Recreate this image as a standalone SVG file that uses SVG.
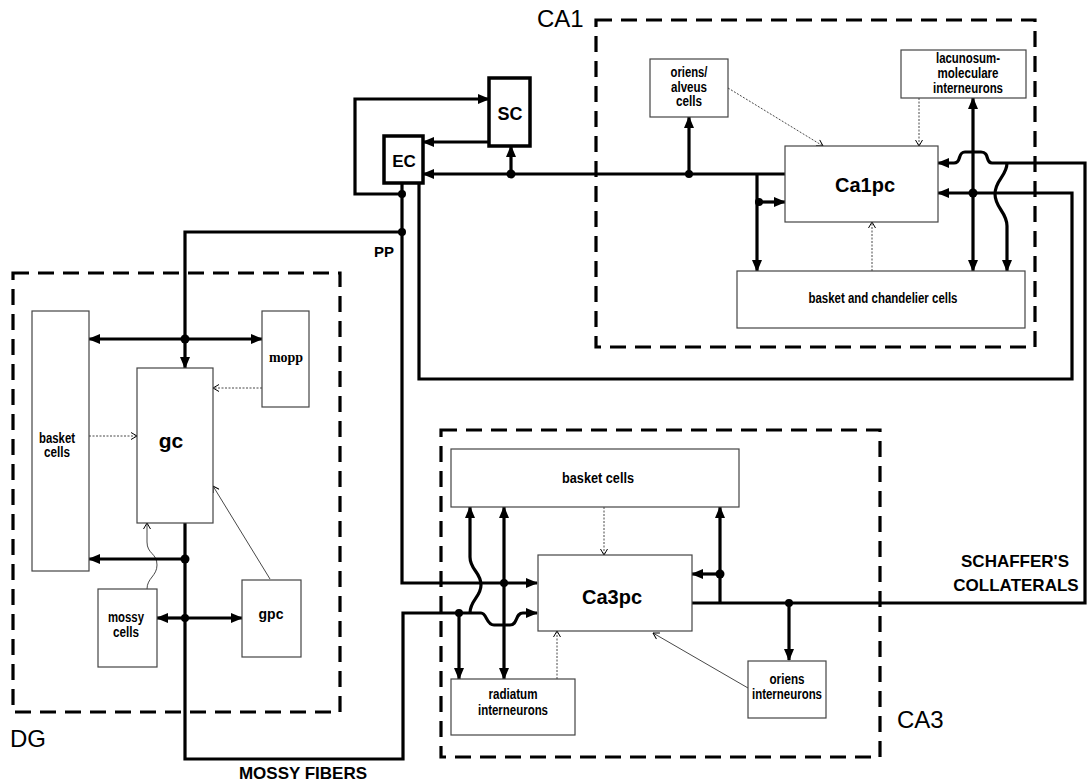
<svg xmlns="http://www.w3.org/2000/svg" width="1087" height="784" viewBox="0 0 1087 784">
<defs>
<marker id="ah" markerUnits="userSpaceOnUse" markerWidth="12" markerHeight="10" refX="11" refY="5" orient="auto"><path d="M0,0 L12,5 L0,10 z" fill="#000"/></marker>
<marker id="th" markerUnits="userSpaceOnUse" markerWidth="7" markerHeight="8" refX="6.5" refY="4" orient="auto"><path d="M0.5,0.5 L6.5,4 L0.5,7.5" fill="none" stroke="#000" stroke-width="1"/></marker>
<style>
.region{fill:none;stroke:#000;stroke-width:3.2;stroke-dasharray:16,9}
.box{fill:#fff;stroke:#444;stroke-width:1.2}
.tbox{fill:#fff;stroke:#000;stroke-width:3.5}
.c{fill:none;stroke:#000;stroke-width:3.2}
.ca{fill:none;stroke:#000;stroke-width:3.2;marker-end:url(#ah)}
.tn{fill:none;stroke:#333;stroke-width:0.9;stroke-dasharray:2,1.5;marker-end:url(#th)}
.ts{fill:none;stroke:#333;stroke-width:0.9;marker-end:url(#th)}
.dot{fill:#000}
text{font-family:"Liberation Sans",Arial,sans-serif;fill:#000;text-anchor:middle}
.n{font-family:"Liberation Sans Narrow","Liberation Sans",Arial,sans-serif;font-weight:bold;font-size:14px}
.big{font-weight:bold;font-size:20px}
.reg{font-size:24px;text-anchor:start}
.lab{font-weight:bold;font-size:17px}
</style>
</defs>
<rect width="1087" height="784" fill="#fff"/>

<g id="regions">
<rect id="CA1" class="region" x="596" y="20" width="439" height="327"/>
<rect id="DG" class="region" x="13" y="273" width="327" height="439"/>
<rect id="CA3" class="region" x="441" y="430" width="439" height="327"/>
<text class="reg" x="537" y="27">CA1</text>
<text class="reg" x="10" y="747">DG</text>
<text class="reg" x="897" y="728">CA3</text>
</g>

<g id="connectors">
<!-- thin connectors -->
<path class="tn" d="M89,436 H137"/>
<path class="tn" d="M262,388 H213"/>
<path class="ts" d="M270,579 L213,486"/>
<path class="ts" d="M147,589 C147,578 157,576 157,565 C157,553 147,554 147,542 V523"/>
<path class="tn" d="M728,88 L823,146"/>
<path class="tn" d="M919,98 V146"/>
<path class="tn" d="M872,271 V222"/>
<path class="tn" d="M604,507 V555"/>
<path class="tn" d="M557,679 V631"/>
<path class="ts" d="M748,688 L653,633"/>

<!-- thick connectors -->
<path class="ca" d="M402,194 H355 V99 H489"/>
<path class="ca" d="M489,142 H423"/>
<path class="ca" d="M785,174 H423"/>
<path class="ca" d="M511,174 V146"/>
<path class="ca" d="M689,174 V117"/>
<path class="ca" d="M757,174 V271"/>
<path class="ca" d="M757,202 H785"/>
<path class="ca" d="M402,183 V583 H537"/>
<path class="ca" d="M402,232 H185 V368"/>
<path class="ca" d="M185,339 H89"/>
<path class="ca" d="M185,339 H262"/>
<path class="ca" d="M419,183 V379 H1072 V193 H938"/>
<path class="ca" d="M973,193 V98"/>
<path class="ca" d="M973,193 V271"/>
<path class="ca" d="M692,603 H1085 V163 H992 C985,163 990,152 981,152 H965 C957,152 962,163 954,163 H938"/>
<path class="ca" d="M1007,163 C1007,176 995,180 995,194 C995,208 1007,212 1007,226 V271"/>
<path class="ca" d="M720,603 V507"/>
<path class="ca" d="M720,574 H692"/>
<path class="ca" d="M789,603 V660"/>
<path class="ca" d="M185,523 V759 H403 V613 H481 C487,613 486,625 494,625 H510 C518,625 515,613 523,613 H537"/>
<path class="ca" d="M459,613 V679"/>
<path class="ca" d="M504,583 V507"/>
<path class="ca" d="M504,583 V679"/>
<path class="ca" d="M470,613 C470,600 481,597 481,585 C481,572 470,570 470,557 V507"/>
<path class="ca" d="M185,559 H89"/>
<path class="ca" d="M185,618 H157"/>
<path class="ca" d="M185,618 H242"/>

<circle class="dot" cx="402" cy="194" r="4"/>
<circle class="dot" cx="402" cy="232" r="4"/>
<circle class="dot" cx="511" cy="174" r="4.5"/>
<circle class="dot" cx="689" cy="174" r="4"/>
<circle class="dot" cx="759" cy="202" r="4"/>
<circle class="dot" cx="973" cy="193" r="4.5"/>
<circle class="dot" cx="185" cy="339" r="4.5"/>
<circle class="dot" cx="185" cy="559" r="4.5"/>
<circle class="dot" cx="185" cy="618" r="4"/>
<circle class="dot" cx="720" cy="574" r="4.5"/>
<circle class="dot" cx="789" cy="603" r="4"/>
<circle class="dot" cx="459" cy="613" r="4"/>
<circle class="dot" cx="504" cy="583" r="4"/>

<text class="lab" x="384" y="257" style="font-size:15px">PP</text>
<text class="lab" x="303" y="779">MOSSY FIBERS</text>
<text class="lab" x="1015" y="567">SCHAFFER'S</text>
<text class="lab" x="1016" y="591">COLLATERALS</text>
</g>

<g id="SC"><rect class="tbox" x="489" y="78" width="41" height="68"/><text class="big" x="510" y="120" style="font-size:18px">SC</text></g>
<g id="EC"><rect class="tbox" x="384" y="136" width="39" height="47"/><text class="big" x="404" y="167" style="font-size:17px">EC</text></g>

<g id="oriens-alveus"><rect class="box" x="650" y="59" width="78" height="58"/><text class="n" x="689" y="77" textLength="37" lengthAdjust="spacingAndGlyphs">oriens/</text><text class="n" x="689" y="92" textLength="36" lengthAdjust="spacingAndGlyphs">alveus</text><text class="n" x="689" y="106" textLength="26" lengthAdjust="spacingAndGlyphs">cells</text></g>
<g id="lacunosum"><rect class="box" x="901" y="50" width="125" height="48"/><text class="n" x="968" y="63" textLength="64" lengthAdjust="spacingAndGlyphs">lacunosum-</text><text class="n" x="968" y="78" textLength="61" lengthAdjust="spacingAndGlyphs">moleculare</text><text class="n" x="968" y="93" textLength="70" lengthAdjust="spacingAndGlyphs">interneurons</text></g>
<g id="Ca1pc"><rect class="box" x="785" y="146" width="153" height="76"/><text class="big" x="865" y="192">Ca1pc</text></g>
<g id="basket-chandelier"><rect class="box" x="737" y="271" width="288" height="57"/><text class="n" x="883" y="303" textLength="149" lengthAdjust="spacingAndGlyphs">basket and chandelier cells</text></g>

<g id="DG-basket"><rect class="box" x="32" y="311" width="57" height="260"/><text class="n" x="57" y="443" textLength="36" lengthAdjust="spacingAndGlyphs">basket</text><text class="n" x="57" y="457" textLength="26" lengthAdjust="spacingAndGlyphs">cells</text></g>
<g id="gc"><rect class="box" x="137" y="368" width="76" height="155"/><text class="big" x="171" y="448" style="font-size:21px">gc</text></g>
<g id="mopp"><rect class="box" x="262" y="311" width="47" height="96"/><text x="286" y="362" style="font-family:'Liberation Serif','Times New Roman',serif;font-weight:bold;font-size:14px">mopp</text></g>
<g id="mossy-cells"><rect class="box" x="98" y="589" width="59" height="78"/><text class="n" x="126" y="622" textLength="36" lengthAdjust="spacingAndGlyphs">mossy</text><text class="n" x="126" y="637" textLength="26" lengthAdjust="spacingAndGlyphs">cells</text></g>
<g id="gpc"><rect class="box" x="242" y="580" width="59" height="77"/><text x="271" y="619" style="font-weight:bold;font-size:14px">gpc</text></g>

<g id="CA3-basket"><rect class="box" x="451" y="449" width="288" height="58"/><text class="n" x="598" y="483" style="font-size:15px" textLength="72" lengthAdjust="spacingAndGlyphs">basket cells</text></g>
<g id="Ca3pc"><rect class="box" x="538" y="555" width="154" height="76"/><text class="big" x="612" y="604">Ca3pc</text></g>
<g id="radiatum"><rect class="box" x="451" y="679" width="124" height="56"/><text class="n" x="513" y="699" textLength="49" lengthAdjust="spacingAndGlyphs">radiatum</text><text class="n" x="513" y="715" textLength="70" lengthAdjust="spacingAndGlyphs">interneurons</text></g>
<g id="oriens-int"><rect class="box" x="748" y="661" width="78" height="57"/><text class="n" x="787" y="684" textLength="35" lengthAdjust="spacingAndGlyphs">oriens</text><text class="n" x="787" y="699" textLength="70" lengthAdjust="spacingAndGlyphs">interneurons</text></g>
</svg>
